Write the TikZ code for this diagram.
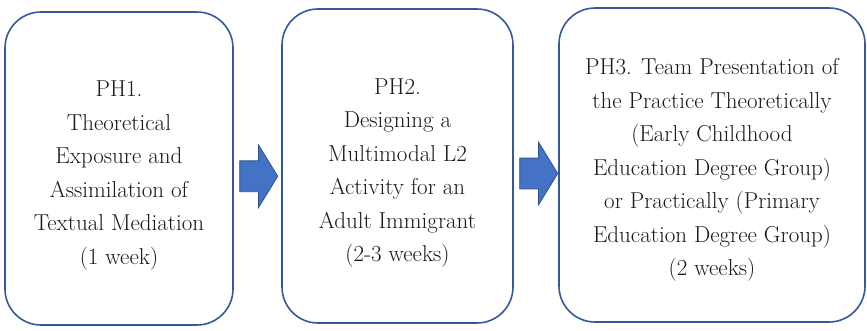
\documentclass[tikz,border=0pt]{standalone}
\usepackage{tikz}
\usetikzlibrary{
    calc,
    positioning,
    shapes.arrows
}
\definecolor{boxline}{RGB}{52,88,156}
\definecolor{arrowfill}{RGB}{68,114,196}
\definecolor{arrowline}{RGB}{47,82,143}
\tikzset{
    phase/.style={
        draw=boxline, line width=1.6pt, rounded corners=36pt,
        fill=white, inner sep=0pt
    },
    phasetext/.style={
        align=center, inner sep=0pt, text=black!90,
        font=\fontsize{23}{33.5}\selectfont
    },
    blockarrow/.style={
        single arrow, draw=arrowline, fill=arrowfill, line width=0.8pt,
        inner xsep=0pt, inner ysep=15pt, minimum height=38pt,
        single arrow head extend=16pt, single arrow tip angle=117
    }
}
\begin{document}
\begin{tikzpicture}[x=1pt,y=1pt]
      \useasboundingbox (0,0) rectangle (867,330);
      % the three phases
      \node[phase, minimum width=228pt, minimum height=313pt] (ph1) at (119,161.5) {};
      \node[phase, minimum width=231pt, minimum height=314pt] (ph2) at (397.5,164) {};
      \node[phase, minimum width=306pt, minimum height=314pt] (ph3) at (712,165) {};
      \node[phasetext] (ph1text) at ([yshift=-7pt]ph1.center)
        {PH1.\\ Theoretical\\ Exposure and\\ Assimilation of\\ Textual Mediation\\ (1 week)};
      \node[phasetext] (ph2text) at ([yshift=-7pt]ph2.center)
        {PH2.\\ Designing a\\ Multimodal L2\\ Activity for an\\ Adult Immigrant\\ (2-3 weeks)};
      \node[phasetext] (ph3text) at ([yshift=-5pt]ph3.center)
        {PH3. Team Presentation of\\ the Practice Theoretically\\ (Early Childhood\\ Education Degree Group)\\ or Practically (Primary\\ Education Degree Group)\\ (2 weeks)};
      % block arrows between phases
      \node[blockarrow] (a12) at ($(ph1.east)!0.5!(ph2.west)+(-3.5,-9)$) {};
      \node[blockarrow] (a23) at ($(ph2.east)!0.5!(ph3.west)+(-2,-8)$) {};
\end{tikzpicture}
\end{document}
